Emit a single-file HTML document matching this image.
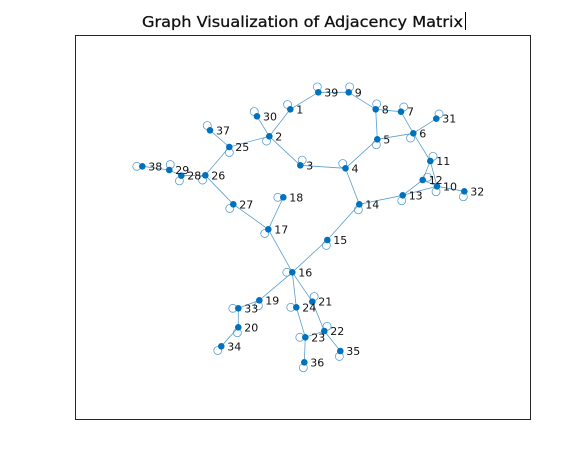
<!DOCTYPE html>
<html><head><meta charset="utf-8"><style>
html,body{margin:0;padding:0;background:#fff;width:587px;height:472px;overflow:hidden}
svg text{font-family:"DejaVu Sans","Liberation Sans",sans-serif}
</style></head><body>
<svg id="chart" width="587" height="472" xmlns="http://www.w3.org/2000/svg">
<rect x="0" y="0" width="587" height="472" fill="#fff"/>
<text x="142" y="27" textLength="321" lengthAdjust="spacingAndGlyphs" font-size="15.5" fill="#111" stroke="#111" stroke-width="0.3">Graph Visualization of Adjacency Matrix</text>
<line x1="465.5" y1="12" x2="465.5" y2="30" stroke="#000" stroke-width="1"/>
<rect x="75.5" y="35.5" width="455" height="384" fill="#fff" stroke="#262626" stroke-width="1"/>
<g id="edges"></g><g id="loops"></g><g id="nodes"></g><g id="labels"></g>
</svg>
<script>
// node layout coordinates (graph data units)
const nodeIds=[1,2,3,4,5,6,7,8,9,10,11,12,13,14,15,16,17,18,19,20,21,22,23,24,25,26,27,28,29,30,31,32,33,34,35,36,37,38,39];
const nodeX=[215.3,194.3,225.3,270.5,302.3,338.3,326,300.7,273.7,362,355.3,347.7,327.7,284.3,252.3,217.3,193.3,208.3,184.3,163.3,237.3,249.3,230.3,221.3,154.3,130.3,158.3,106.3,94.3,182,361.3,389.3,163.3,146.3,265.3,229.3,135,67.3,243.3];
const nodeY=[74.3,101.3,130.3,133.3,104.3,98.3,76.7,74.3,57.3,151.3,126,145,160.3,169.3,205,237.3,194.3,162.3,265.3,292.3,266.7,296,302.3,272.3,112,140.3,169.3,140.7,135,81.3,83.7,156.3,273.3,311.3,316,327.3,95.3,131.3,57.3];
// self-loop direction (degrees, 0=right, 90=down)
const loopDir=[-120,120,-70,-120,100,120,-60,-80,-80,100,-60,-30,100,100,100,180,130,180,100,100,-70,-60,180,180,90,120,130,110,-80,-120,-60,100,180,130,100,100,-120,180,-100];
const edgeFrom=[1,39,9,8,8,7,6,6,5,4,3,2,2,2,25,25,26,28,29,26,27,17,17,4,14,13,13,12,11,11,10,12,14,15,16,19,33,20,16,24,23,16,21,22,22];
const edgeTo  =[39,9,8,7,5,6,31,5,4,3,2,1,30,25,37,26,28,29,38,27,17,18,16,14,13,12,10,11,6,10,32,10,15,16,19,33,20,34,24,23,36,21,22,35,23];
const ox=75,oy=35;
const sx=v=>ox+v, sy=v=>oy+v;
const NS='http://www.w3.org/2000/svg';
function mk(tag,attrs,parent){const e=document.createElementNS(NS,tag);for(const k in attrs)e.setAttribute(k,attrs[k]);document.getElementById(parent).appendChild(e);return e;}
const idx=id=>nodeIds.indexOf(id);
for(let i=0;i<edgeFrom.length;i++){
  const a=idx(edgeFrom[i]),b=idx(edgeTo[i]);
  const l=mk('line',{x1:sx(nodeX[a]),y1:sy(nodeY[a]),x2:sx(nodeX[b]),y2:sy(nodeY[b]),stroke:'#5b9fd0','stroke-width':0.8},'edges');
  
  
}
for(let i=0;i<nodeIds.length;i++){
  const t=loopDir[i]*Math.PI/180;
  const c=mk('circle',{cx:sx(nodeX[i])+5.5*Math.cos(t),cy:sy(nodeY[i])+5.5*Math.sin(t),r:4,fill:'none',stroke:'#5b9fd0','stroke-width':0.8},'loops');
  
  
  const n=mk('circle',{cx:sx(nodeX[i]),cy:sy(nodeY[i]),r:3.3,fill:'#0072BD'},'nodes');
  
  
  const tx=mk('text',{x:sx(nodeX[i])+6,y:sy(nodeY[i])+4,'font-size':11,fill:'#111'},'labels');
  tx.textContent=String(nodeIds[i]);
  
  
}
</script>
</body></html>
